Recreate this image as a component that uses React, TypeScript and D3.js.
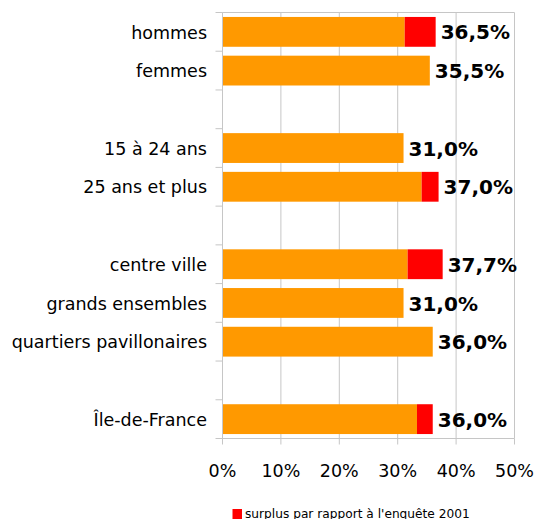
import React from "react";
import * as d3 from "d3";

const categories = [
  "hommes",
  "femmes",
  "",
  "15 à 24 ans",
  "25 ans et plus",
  "",
  "centre ville",
  "grands ensembles",
  "quartiers pavillonaires",
  "",
  "Île-de-France",
];
const baseValues = [31.2, 35.5, null, 31.0, 34.1, null, 31.7, 31.0, 36.0, null, 33.3];
const surplusValues = [5.3, 0, null, 0, 2.9, null, 6.0, 0, 0, null, 2.7];
const totalLabels = ["36,5%", "35,5%", "", "31,0%", "37,0%", "", "37,7%", "31,0%", "36,0%", "", "36,0%"];
const xTicks = [0, 10, 20, 30, 40, 50];
const legendLabel = "surplus par rapport à l'enquête 2001";

const W = 537;
const H = 519;
const M = { left: 222.5, right: 514.5, top: 12.5, bottom: 438.5 };
const ORANGE = "#FF9900";
const RED = "#FF0000";
const GRID = "#c6c6c6";
const FONT = "'DejaVu Sans', Verdana, sans-serif";

export default function App() {
  const x = d3.scaleLinear().domain([0, 50]).range([M.left, M.right]);
  const idx = categories.map((_, i) => String(i));
  const y = d3.scaleBand().domain(idx).range([M.top, M.bottom]).paddingInner(0.23).paddingOuter(0.115);
  const step = y.step();
  const boundaries = d3.range(categories.length + 1).map((i) => M.top + i * step);

  return (
    <svg width={W} height={H} style={{ position: "absolute", left: 0, top: 0, display: "block" }} fontFamily={FONT}>
      <rect x={0} y={0} width={W} height={H} fill="#fff" />
      {/* grid */}
      {xTicks.map((t) => (
        <line key={"g" + t} x1={x(t)} x2={x(t)} y1={M.top} y2={M.bottom} stroke={GRID} strokeWidth={1} />
      ))}
      <line x1={M.left} x2={M.right} y1={M.top} y2={M.top} stroke={GRID} strokeWidth={1} />
      {/* x axis */}
      <line x1={M.left} x2={M.right} y1={M.bottom} y2={M.bottom} stroke={GRID} strokeWidth={1} />
      {xTicks.map((t) => (
        <line key={"xt" + t} x1={x(t)} x2={x(t)} y1={M.bottom} y2={M.bottom + 6} stroke={GRID} strokeWidth={1} />
      ))}
      {xTicks.map((t) => (
        <text key={"xl" + t} x={x(t)} y={476.5} textAnchor="middle" fontSize={17.5} fill="#000">
          {t + "%"}
        </text>
      ))}
      {/* y axis ticks */}
      {boundaries.map((b, i) => (
        <line key={"yt" + i} x1={M.left - 7} x2={M.left} y1={b} y2={b} stroke={GRID} strokeWidth={1} />
      ))}
      {/* bars */}
      {categories.map((c, i) => {
        const bv = baseValues[i];
        if (bv === null) return null;
        const sv = surplusValues[i] || 0;
        const yy = y(String(i))!;
        const bh = y.bandwidth();
        return (
          <g key={"b" + i}>
            <rect x={x(0)} y={yy} width={x(bv) - x(0)} height={bh} fill={ORANGE} />
            {sv > 0 && <rect x={x(bv)} y={yy} width={x(bv + sv) - x(bv)} height={bh} fill={RED} />}
            <text x={x(bv + sv) + 5} y={yy + bh / 2} dy="0.38em" fontSize={20} fontWeight="bold" fill="#000">
              {totalLabels[i]}
            </text>
          </g>
        );
      })}
      <line x1={M.left} x2={M.left} y1={M.top} y2={M.bottom} stroke={GRID} strokeWidth={1} />
      {/* category labels */}
      {categories.map((c, i) =>
        c ? (
          <text key={"c" + i} x={207} y={y(String(i))! + y.bandwidth() / 2} dy="0.38em" textAnchor="end" fontSize={17.5} fill="#000">
            {c}
          </text>
        ) : null
      )}
      {/* legend */}
      <rect x={232.5} y={509} width={9.5} height={10} fill={RED} />
      <text x={245} y={517.5} fontSize={12.2} fill="#000">
        {legendLabel}
      </text>
    </svg>
  );
}
